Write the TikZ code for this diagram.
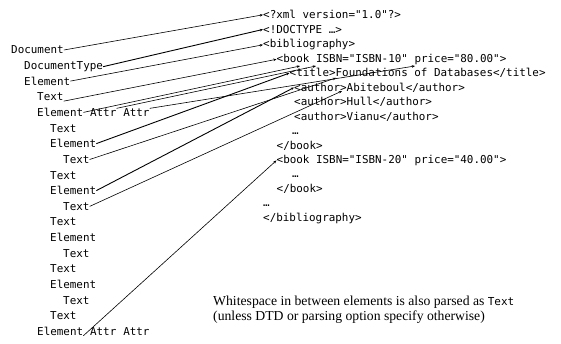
\documentclass[tikz,border=0pt]{standalone}
\usepackage{fontspec}
\setmainfont{Liberation Serif}
\setmonofont{DejaVu Sans Mono}
\usetikzlibrary{arrows.meta}
\begin{document}
\begin{tikzpicture}[x=1pt,y=-1pt,
  lbl/.style={font=\ttfamily\fontsize{10.9}{12}\selectfont, inner sep=0pt, anchor=base west},
  xml/.style={font=\ttfamily\fontsize{10.9}{12}\selectfont, inner sep=0pt, anchor=base west},
  note/.style={font=\fontsize{13.7}{15}\selectfont, inner sep=0pt, anchor=base west},
  conn/.style={line width=0.6pt, -{Stealth[length=3.2pt,width=2.6pt]}},
  connb/.style={conn, line width=0.9pt}]
\useasboundingbox (0,0) rectangle (561,343);
\fill[white] (0,0) rectangle (561,343);
% left column: tree
\node[lbl] (d0) at (11,53.9) {Document};
\node[lbl] (d1) at (24,69.5) {DocumentType};
\node[lbl] (e2) at (24,85.2) {Element};
\node[lbl] (t3) at (37,100.8) {Text};
\node[lbl] (e4) at (37,116.5) {Element};
\node[lbl] (a4a) at ([xshift=6.56pt]e4.base east) {Attr};
\node[lbl] (a4b) at ([xshift=6.56pt]a4a.base east) {Attr};
\node[lbl] (t5) at (50,132.1) {Text};
\node[lbl] (e6) at (50,147.7) {Element};
\node[lbl] (t7) at (63,163.4) {Text};
\node[lbl] (t8) at (50,179.0) {Text};
\node[lbl] (e9) at (50,194.7) {Element};
\node[lbl] (t10) at (63,210.3) {Text};
\node[lbl] (t11) at (50,225.9) {Text};
\node[lbl] (e12) at (50,241.6) {Element};
\node[lbl] (t13) at (63,257.2) {Text};
\node[lbl] (t14) at (50,272.9) {Text};
\node[lbl] (e15) at (50,288.5) {Element};
\node[lbl] (t16) at (63,304.1) {Text};
\node[lbl] (t17) at (50,319.8) {Text};
\node[lbl] (e18) at (37,335.4) {Element};
\node[lbl] (a18a) at ([xshift=6.56pt]e18.base east) {Attr};
\node[lbl] (a18b) at ([xshift=6.56pt]a18a.base east) {Attr};
% right column: XML
\node[xml] (x0) at (263,18.9) {<?xml version="1.0"?>};
\node[xml] (x1) at (263,33.4) {<!DOCTYPE …>};
\node[xml] (x2) at (263,47.8) {<bibliography>};
\node[xml] (x3) at (276.5,62.3) {<book ISBN="ISBN-10" price="80.00">};
\node[xml] (x4) at (289.5,76.7) {<title>Foundations of Databases</title>};
\node[xml] (x5) at (294,91.2) {<author>Abiteboul</author>};
\node[xml] (x6) at (294,105.6) {<author>Hull</author>};
\node[xml] (x7) at (294,120.1) {<author>Vianu</author>};
\node[xml] (x8) at (292,134.5) {…};
\node[xml] (x9) at (276.5,149.0) {</book>};
\node[xml] (x10) at (276.5,163.4) {<book ISBN="ISBN-20" price="40.00">};
\node[xml] (x11) at (292,177.9) {…};
\node[xml] (x12) at (276.5,192.3) {</book>};
\node[xml] (x13) at (263,206.8) {…};
\node[xml] (x14) at (263,221.2) {</bibliography>};
% arrow targets
\coordinate (pbook) at (300,66);
\coordinate (pisbn) at (316,66);
\coordinate (pprice) at (415,66);
\coordinate (pfound) at (336,78);
\coordinate (pabit) at (342,91);
% note
\node[note] (n1) at (213,305.5) {Whitespace in between elements is also parsed as {\ttfamily\fontsize{11}{12}\selectfont Text}};
\node[note] (n2) at (213,320.5) {(unless DTD or parsing option specify otherwise)};
% connectors
\draw[conn] (d0.east) -- (x0.west);
\draw[connb] (d1.east) -- (x1.west);
\draw[conn] (e2.east) -- (x2.west);
\draw[conn] (t3.south east) -- (x3.west);
\draw[conn] (e4.east) -- (pbook);
\draw[conn] (a4a.north east) -- (pisbn);
\draw[conn] (a4b.north east) -- (pprice);
\draw[connb] (e6.east) -- (x4.west);
\draw[conn] (t7.east) -- (pfound);
\draw[connb] (e9.east) -- (x5.west);
\draw[conn] (t10.east) -- (pabit);
\draw[conn] (e18.south east) -- (x10.west);
\end{tikzpicture}
\end{document}
